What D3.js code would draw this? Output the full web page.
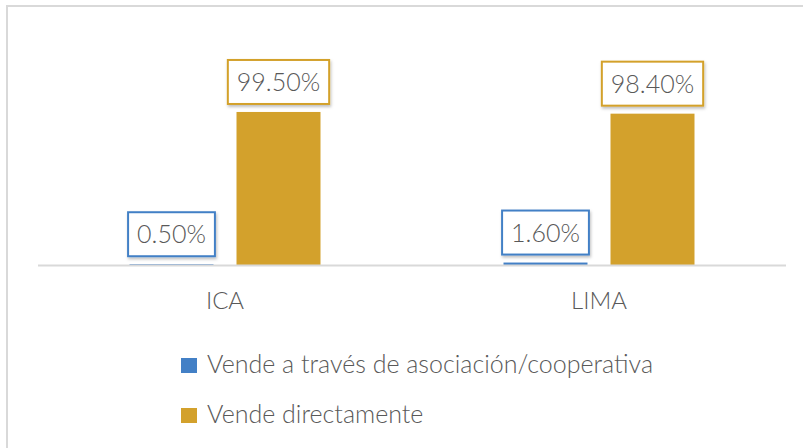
<!DOCTYPE html>
<html>
<head>
<meta charset="utf-8">
<script src="https://cdn.jsdelivr.net/npm/d3@7"></script>
<style>
  body { margin: 0; background: #fff; }
  svg text { font-family: 'Lato', 'Open Sans', sans-serif; font-weight: 300; fill: #595959; }
</style>
</head>
<body>
<div id="chart"></div>
<script>
const categories = ['ICA', 'LIMA'];
const seriesNames = ['Vende a través de asociación/cooperativa', 'Vende directamente'];
const asociacion = [0.005, 0.016];
const directo = [0.995, 0.984];
const colors = ['#4380c6', '#d3a12c'];

const width = 803, height = 448;
const svg = d3.select('#chart').append('svg')
  .attr('width', width)
  .attr('height', height);

// drop shadow for the labels
const defs = svg.append('defs');
const filt = defs.append('filter').attr('id', 'shadow')
  .attr('x', '-20%').attr('y', '-20%').attr('width', '140%').attr('height', '160%');
filt.append('feDropShadow')
  .attr('dx', 1).attr('dy', 2).attr('stdDeviation', 1.5)
  .attr('flood-color', '#000').attr('flood-opacity', 0.25);

// chart frame
svg.append('rect')
  .attr('x', 7).attr('y', 6)
  .attr('width', width + 20).attr('height', height + 20)
  .attr('fill', '#fff')
  .attr('stroke', '#d9d9d9').attr('stroke-width', 2);

const x0 = d3.scaleBand()
  .domain(categories)
  .range([38, 786]);

const x1 = d3.scaleBand()
  .domain(seriesNames)
  .range([-95.5, 95.5])
  .paddingInner(0.215);

const y = d3.scaleLinear()
  .domain([0, 1])
  .range([265, 111.2]);

const rows = categories.map((c, i) => ({
  cat: c,
  vals: [
    { name: seriesNames[0], v: asociacion[i], color: colors[0] },
    { name: seriesNames[1], v: directo[i], color: colors[1] }
  ]
}));

const groups = svg.selectAll('.group')
  .data(rows)
  .enter().append('g')
  .attr('class', 'group')
  .attr('transform', d => `translate(${x0(d.cat) + x0.bandwidth() / 2},0)`);

groups.selectAll('.bar')
  .data(d => d.vals)
  .enter().append('rect')
  .attr('class', 'bar')
  .attr('x', d => x1(d.name))
  .attr('width', x1.bandwidth())
  .attr('y', d => y(d.v))
  .attr('height', d => y(0) - y(d.v))
  .attr('fill', d => d.color);

// axis line
svg.append('line')
  .attr('x1', x0.range()[0]).attr('x2', x0.range()[1])
  .attr('y1', y(0) + 0.5).attr('y2', y(0) + 0.5)
  .attr('stroke', '#d9d9d9').attr('stroke-width', 2);

// category labels
svg.selectAll('.cat')
  .data(categories)
  .enter().append('text')
  .attr('class', 'cat')
  .attr('x', d => x0(d) + x0.bandwidth() / 2)
  .attr('y', 309)
  .attr('text-anchor', 'middle')
  .style('font-size', '24px')
  .text(d => d);

// data labels, box sized to the text
const fmt = d3.format('.2%');
const lbl = groups.selectAll('.lbl')
  .data(d => d.vals)
  .enter().append('g')
  .attr('class', 'lbl')
  .attr('transform', d => `translate(${x1(d.name) + x1.bandwidth() / 2},${y(d.v) - 8})`);

const box = lbl.append('rect')
  .attr('y', -44)
  .attr('height', 44)
  .attr('fill', '#fff')
  .attr('stroke', d => d.color).attr('stroke-width', 2)
  .attr('filter', 'url(#shadow)');

const txt = lbl.append('text')
  .attr('x', 0).attr('y', -13)
  .attr('text-anchor', 'middle')
  .style('font-size', '25px')
  .text(d => fmt(d.v));

box.each(function(d, i) {
  const w = txt.nodes()[i].getComputedTextLength() + 18;
  d3.select(this).attr('x', -w / 2).attr('width', w);
});

// legend
const legend = svg.selectAll('.legend')
  .data(seriesNames)
  .enter().append('g')
  .attr('class', 'legend')
  .attr('transform', (d, i) => `translate(181,${358 + i * 50})`);

legend.append('rect')
  .attr('width', 16).attr('height', 15)
  .attr('fill', (d, i) => colors[i]);

legend.append('text')
  .attr('x', 26).attr('y', 15)
  .style('font-size', '25px')
  .text(d => d);
</script>
</body>
</html>
